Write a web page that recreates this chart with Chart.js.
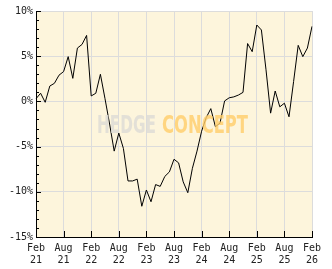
<!DOCTYPE html>
<html>
<head>
<meta charset="utf-8">
<script src="https://cdn.jsdelivr.net/npm/chart.js@4"></script>
<style>
  body { margin: 0; background: #fff; }
  #wrap { width: 332px; height: 269px; }
</style>
</head>
<body>
<div id="wrap"><canvas id="myChart"></canvas></div>
<script>
// monthly points, Feb 21 .. Feb 26
var months = [
    'Feb 21','Mar 21','Apr 21','May 21','Jun 21','Jul 21','Aug 21','Sep 21','Oct 21','Nov 21','Dec 21','Jan 22',
    'Feb 22','Mar 22','Apr 22','May 22','Jun 22','Jul 22','Aug 22','Sep 22','Oct 22','Nov 22','Dec 22','Jan 23',
    'Feb 23','Mar 23','Apr 23','May 23','Jun 23','Jul 23','Aug 23','Sep 23','Oct 23','Nov 23','Dec 23','Jan 24',
    'Feb 24','Mar 24','Apr 24','May 24','Jun 24','Jul 24','Aug 24','Sep 24','Oct 24','Nov 24','Dec 24','Jan 25',
    'Feb 25','Mar 25','Apr 25','May 25','Jun 25','Jul 25','Aug 25','Sep 25','Oct 25','Nov 25','Dec 25','Jan 26',
    'Feb 26'
];

var performance = [
    0.3, 0.9, -0.1, 1.7, 2.0, 2.9, 3.3, 4.95, 2.55, 5.9, 6.3, 7.3,
    0.6, 0.9, 3.0, 0.3, -2.5, -5.5, -3.5, -5.2, -8.8, -8.8, -8.6, -11.6,
    -9.8, -11.1, -9.2, -9.4, -8.3, -7.8, -6.4, -6.8, -8.9, -10.1, -7.4, -5.5,
    -3.3, -1.8, -0.8, -2.8, -2.4, 0.05, 0.4, 0.5, 0.7, 1.0, 6.4, 5.5,
    8.45, 7.9, 3.5, -1.3, 1.15, -0.6, -0.2, -1.7, 2.2, 6.2, 4.95, 5.9,
    8.3
];

var yTicks = [-15, -10, -5, 0, 5, 10];
var labelEvery = 6;

var fontFamily = '"DejaVu Sans Mono", monospace';

// cream plot area
var plotBg = {
    id: 'plotBg',
    beforeDraw: function(chart) {
        var a = chart.chartArea, ctx = chart.ctx;
        ctx.save();
        ctx.fillStyle = '#fdf5dc';
        ctx.fillRect(a.left, a.top, a.right - a.left, a.bottom - a.top);
        ctx.restore();
    }
};

// watermark over the line
var watermark = {
    id: 'watermark',
    afterDatasetsDraw: function(chart) {
        var ctx = chart.ctx;
        ctx.save();
        ctx.font = 'bold 25px "Liberation Sans Narrow", "DejaVu Sans Condensed", sans-serif';
        ctx.textBaseline = 'alphabetic';
        var w1 = ctx.measureText('HEDGE').width;
        var w2 = ctx.measureText('CONCEPT').width;
        ctx.translate(97, 133);
        ctx.save();
        ctx.scale(59 / w1, 1);
        ctx.fillStyle = 'rgba(222,220,214,0.85)';
        ctx.fillText('HEDGE', 0, 0);
        ctx.restore();
        ctx.translate(65, 0);
        ctx.scale(86 / w2, 1);
        ctx.fillStyle = 'rgba(255,205,105,0.8)';
        ctx.fillText('CONCEPT', 0, 0);
        ctx.restore();
    }
};

// tick marks pointing into the plot
var innerTicks = {
    id: 'innerTicks',
    afterDraw: function(chart) {
        var ctx = chart.ctx, x = chart.scales.x, y = chart.scales.y;
        var left = chart.chartArea.left, bottom = chart.chartArea.bottom;
        ctx.save();
        ctx.strokeStyle = '#000';
        ctx.lineWidth = 1;
        ctx.beginPath();
        for (var v = yTicks[0]; v <= yTicks[yTicks.length - 1]; v++) {
            var py = Math.round(y.getPixelForValue(v)) + 0.5;
            var len = (v % 5 == 0) ? 5 : 3;
            ctx.moveTo(left, py);
            ctx.lineTo(left + len, py);
        }
        for (var i = 0; i < months.length; i += labelEvery) {
            var px = Math.round(x.getPixelForValue(i)) + 0.5;
            ctx.moveTo(px, bottom);
            ctx.lineTo(px, bottom - 6);
        }
        ctx.stroke();
        ctx.restore();
    }
};

var ctx = document.getElementById('myChart');

var myChart = new Chart(ctx, {
    type: 'line',
    data: {
        labels: months,
        datasets: [{
            data: performance,
            borderColor: '#000',
            borderWidth: 1,
            pointRadius: 0,
            tension: 0,
            fill: false
        }]
    },
    options: {
        responsive: true,
        maintainAspectRatio: false,
        animation: false,
        layout: { padding: { left: 0, right: 20, top: 11, bottom: 0 } },
        plugins: {
            legend: { display: false },
            tooltip: { enabled: false }
        },
        scales: {
            x: {
                type: 'category',
                offset: false,
                border: { display: true, color: '#000', width: 1 },
                grid: {
                    drawTicks: false,
                    color: function(c) {
                        return (c.index % labelEvery == 0) ? '#dcdcdc' : 'rgba(0,0,0,0)';
                    }
                },
                ticks: {
                    autoSkip: false,
                    maxRotation: 0,
                    padding: 5,
                    color: '#222',
                    font: { family: fontFamily, size: 10, lineHeight: 1.2 },
                    callback: function(value, index) {
                        if (index % labelEvery != 0) return '';
                        return months[index].split(' ');
                    }
                },
                afterFit: function(scale) { scale.height = 32; }
            },
            y: {
                min: yTicks[0],
                max: yTicks[yTicks.length - 1],
                border: { display: true, color: '#000', width: 1 },
                grid: { drawTicks: false, color: '#dcdcdc' },
                ticks: {
                    stepSize: 5,
                    padding: 3,
                    color: '#222',
                    font: { family: fontFamily, size: 10 },
                    callback: function(v) { return v + '%'; }
                },
                afterFit: function(scale) { scale.width = 36; }
            }
        }
    },
    plugins: [plotBg, watermark, innerTicks]
});
</script>
</body>
</html>
